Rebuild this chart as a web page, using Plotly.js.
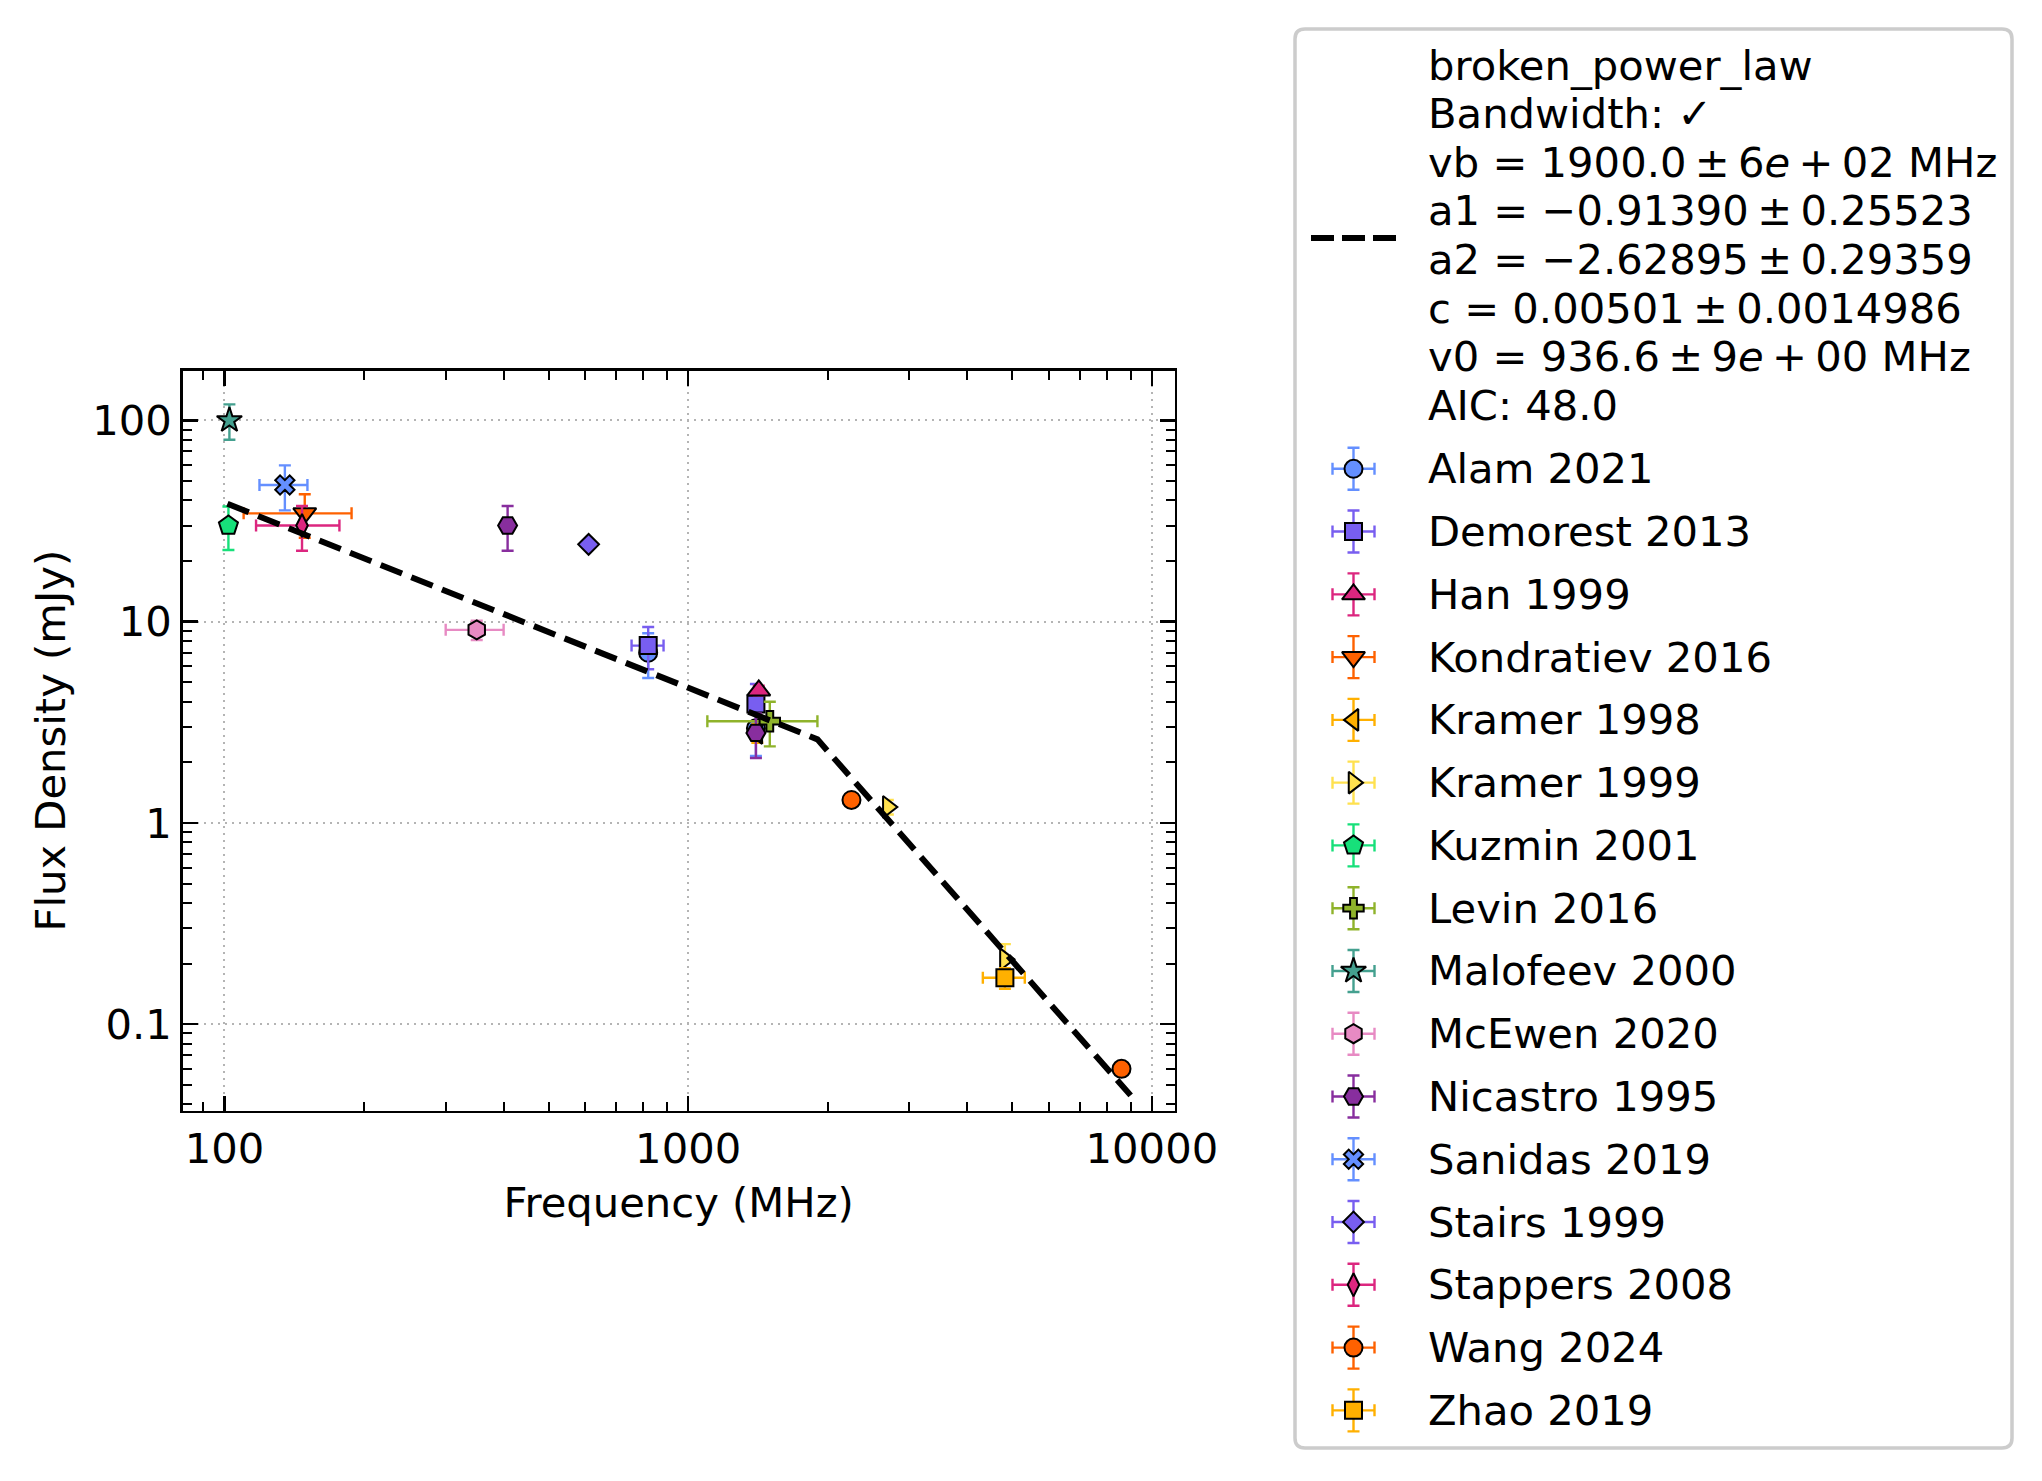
<!DOCTYPE html>
<html>
<head>
<meta charset="utf-8">
<script src="https://cdn.plot.ly/plotly-3.0.1.min.js"></script>
<style>
  html, body { margin: 0; padding: 0; background: #ffffff; }
  #chart { width: 2042px; height: 1481px; }
</style>
</head>
<body>
<div id="chart"></div>
<script>
// Flux density measurements, one entry per publication
const surveyNames = [
  'Alam 2021', 'Demorest 2013', 'Han 1999', 'Kondratiev 2016', 'Kramer 1998',
  'Kramer 1999', 'Kuzmin 2001', 'Levin 2016', 'Malofeev 2000', 'McEwen 2020',
  'Nicastro 1995', 'Sanidas 2019', 'Stairs 1999', 'Stappers 2008', 'Wang 2024',
  'Zhao 2019'
];
const surveyColors = [
  '#648FFF', '#785EF0', '#DC267F', '#FE6100', '#FFB000',
  '#FFE14F', '#17E07A', '#8FB32B', '#44A08F', '#E78AC3',
  '#882E9E', '#648FFF', '#785EF0', '#DC267F', '#FE6100',
  '#FFB000'
];
const surveySymbols = [
  'circle', 'square', 'triangle-up', 'triangle-down', 'triangle-left',
  'triangle-right', 'pentagon', 'cross', 'star', 'hexagon',
  'hexagon2', 'x', 'diamond', 'diamond-tall', 'circle',
  'square'
];
const surveySizes = [18, 17, 20, 20, 19, 19, 20, 17, 19, 19, 19, 17, 16, 16.5, 18, 17];

const freqMHz = [
  [820, 1400], [820, 1400], [1420], [149], [1410],
  [2695, 4820], [102], [1500], [102.5], [350],
  [408, 1400], [135], [610], [147], [2250, 8600],
  [4820]
];
const freqErrMHz = [
  [0, 0], [65, 0], [0], [39], [0],
  [0, 0], [0], [400], [0], [50],
  [0, 0], [16], [0], [30], [0, 0],
  [500]
];
const fluxMJy = [
  [7.0, 2.95], [7.6, 3.9], [4.55], [34.5], [2.8],
  [1.2, 0.21], [30], [3.2], [100], [9.1],
  [30, 2.8], [47.7], [24.2], [30], [1.3, 0.06],
  [0.17]
];
const fluxErrMJy = [
  [1.75, 0.8], [1.8, 1.0], [0.25], [8.4], [0.3],
  [0.1, 0.04], [7.3], [0.8], [20], [1.0],
  [7.5, 0.7], [12], [0.5], [7.5], [0.06, 0.004],
  [0.02]
];

// Broken power-law model: start, break frequency and end of the drawn curve
const fitFreqMHz = [101.5, 1900, 9000];
const fitFluxMJy = [38.5, 2.6, 0.0443];
const fitLabelLines = [
  'broken_power_law',
  'Bandwidth: \u2713',
  'vb = 1900.0\u2009\u00b1\u20096<i>e</i>\u2009+\u200902 MHz',
  'a1 = \u22120.91390\u2009\u00b1\u20090.25523',
  'a2 = \u22122.62895\u2009\u00b1\u20090.29359',
  'c = 0.00501\u2009\u00b1\u20090.0014986',
  'v0 = 936.6\u2009\u00b1\u20099<i>e</i>\u2009+\u200900 MHz',
  'AIC: 48.0'
];

const xTickVals = [100, 1000, 10000];
const xTickText = ['100', '1000', '10000'];
const yTickVals = [0.1, 1, 10, 100];
const yTickText = ['0.1', '1', '10', '100'];

const W = 2042, H = 1481;
const FONT = 'DejaVu Sans';
const FS = 41.7;

// plot frame in page pixels
const plotLeft = 182.7, plotRight = 1174.6, plotTop = 370.7, plotBottom = 1110.7;

const traces = [];

surveyNames.forEach((name, i) => {
  traces.push({
    type: 'scatter', mode: 'markers', name: name,
    x: freqMHz[i], y: fluxMJy[i],
    xaxis: 'x', yaxis: 'y',
    error_x: { type: 'data', array: freqErrMHz[i], visible: true,
               color: surveyColors[i], thickness: 2.4, width: 6 },
    error_y: { type: 'data', array: fluxErrMJy[i], visible: true,
               color: surveyColors[i], thickness: 2.4, width: 6 },
    marker: { symbol: surveySymbols[i], size: surveySizes[i], color: surveyColors[i],
              line: { color: '#000000', width: 2 } },
    hoverinfo: 'skip'
  });
});

traces.push({
  type: 'scatter', mode: 'lines', name: 'broken_power_law',
  x: fitFreqMHz, y: fitFluxMJy, xaxis: 'x', yaxis: 'y',
  line: { color: '#000000', width: 6, dash: '23px,10px' },
  hoverinfo: 'skip'
});

// Legend panel, laid out on a pixel-unit overlay axis pair (x2 / y2)
const legX0 = 1295, legX1 = 2012, legY0 = 29, legY1 = 1448, legR = 10;
const iconX = 1353.5, textX = 1425.5;
const headerY0 = 65, headerStep = 48.6;
const entryY0 = 468.8, entryStep = 62.77;
const fitIconY = 238;

traces.push({
  type: 'scatter', mode: 'lines', xaxis: 'x2', yaxis: 'y2',
  x: [1311, 1396], y: [fitIconY, fitIconY],
  line: { color: '#000000', width: 6, dash: '23px,8px' },
  hoverinfo: 'skip'
});

const annotations = [];
fitLabelLines.forEach((t, k) => {
  annotations.push({
    xref: 'x2', yref: 'y2', x: textX, y: headerY0 + k * headerStep,
    xanchor: 'left', yanchor: 'middle', showarrow: false, text: t,
    font: { family: FONT, size: FS, color: '#000000' }
  });
});

surveyNames.forEach((name, i) => {
  const rowY = entryY0 + i * entryStep;
  traces.push({
    type: 'scatter', mode: 'markers', xaxis: 'x2', yaxis: 'y2',
    x: [iconX], y: [rowY],
    error_x: { type: 'constant', value: 21, color: surveyColors[i], thickness: 2.4, width: 6 },
    error_y: { type: 'constant', value: 21, color: surveyColors[i], thickness: 2.4, width: 6 },
    marker: { symbol: surveySymbols[i], size: surveySizes[i], color: surveyColors[i],
              line: { color: '#000000', width: 2 } },
    hoverinfo: 'skip'
  });
  annotations.push({
    xref: 'x2', yref: 'y2', x: textX, y: rowY,
    xanchor: 'left', yanchor: 'middle', showarrow: false, text: name,
    font: { family: FONT, size: FS, color: '#000000' }
  });
});

const boxPath =
  `M${legX0 + legR},${legY0} L${legX1 - legR},${legY0} Q${legX1},${legY0} ${legX1},${legY0 + legR} ` +
  `L${legX1},${legY1 - legR} Q${legX1},${legY1} ${legX1 - legR},${legY1} ` +
  `L${legX0 + legR},${legY1} Q${legX0},${legY1} ${legX0},${legY1 - legR} ` +
  `L${legX0},${legY0 + legR} Q${legX0},${legY0} ${legX0 + legR},${legY0} Z`;

const axisCommon = {
  type: 'log',
  showline: true, linecolor: '#000000', linewidth: 2.5, mirror: 'allticks',
  ticks: 'inside', ticklen: 15, tickwidth: 2.5, tickcolor: '#000000',
  tickmode: 'array',
  minor: { ticks: 'inside', ticklen: 9, tickwidth: 2, tickcolor: '#000000',
           dtick: 'D1', showgrid: false },
  showgrid: true, gridcolor: '#b4b4b4', gridwidth: 2, griddash: '2px,5px',
  zeroline: false,
  tickfont: { family: FONT, size: FS, color: '#000000' },
  fixedrange: true
};

const layout = {
  width: W, height: H,
  margin: { l: 0, r: 0, t: 0, b: 0, pad: 0 },
  paper_bgcolor: '#ffffff', plot_bgcolor: 'rgba(0,0,0,0)',
  font: { family: FONT, size: FS, color: '#000000' },
  showlegend: false,
  xaxis: Object.assign({}, axisCommon, {
    domain: [plotLeft / W, plotRight / W], anchor: 'y',
    range: [1.910, 4.049],
    tickvals: xTickVals, ticktext: xTickText,
    title: { text: 'Frequency (MHz)', font: { family: FONT, size: FS, color: '#000000' }, standoff: 16 }
  }),
  yaxis: Object.assign({}, axisCommon, {
    domain: [1 - plotBottom / H, 1 - plotTop / H], anchor: 'x',
    range: [-1.4297, 2.2464],
    tickvals: yTickVals, ticktext: yTickText,
    title: { text: 'Flux Density (mJy)', font: { family: FONT, size: FS, color: '#000000' }, standoff: 14 }
  }),
  xaxis2: { domain: [0, 1], range: [0, W], anchor: 'y2', visible: false,
            showgrid: false, zeroline: false, fixedrange: true },
  yaxis2: { domain: [0, 1], range: [H, 0], anchor: 'x2', visible: false,
            showgrid: false, zeroline: false, fixedrange: true },
  shapes: [{
    type: 'path', xref: 'x2', yref: 'y2', path: boxPath, layer: 'below',
    fillcolor: '#ffffff', line: { color: '#cccccc', width: 3.5 }
  }],
  annotations: annotations
};

Plotly.newPlot('chart', traces, layout, { staticPlot: true, displayModeBar: false, responsive: false });
</script>
</body>
</html>
